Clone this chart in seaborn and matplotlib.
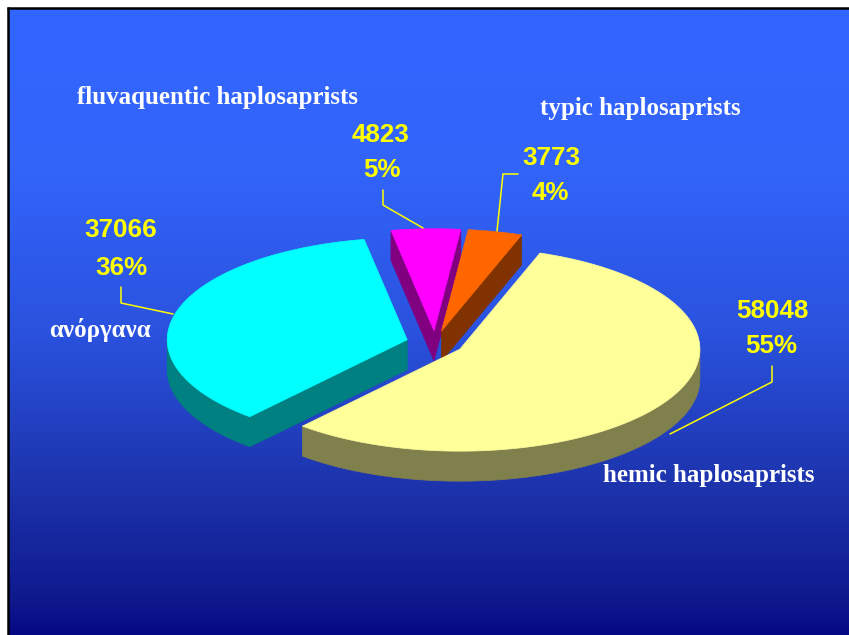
import numpy as np
import matplotlib
matplotlib.use("Agg")
import matplotlib.pyplot as plt
import seaborn as sns
from matplotlib.patches import Polygon
from matplotlib.colors import LinearSegmentedColormap

# ---------------- data ----------------
categories = ["ανόργανα", "fluvaquentic haplosaprists", "typic haplosaprists", "hemic haplosaprists"]
values = [37066, 4823, 3773, 58048]
percent_labels = ["36%", "5%", "4%", "55%"]
top_colors = ["#00FFFF", "#FF00FF", "#FF6600", "#FFFF99"]
side_colors = ["#008080", "#800080", "#803300", "#80804D"]

# ---------------- layout ----------------
W, H = 849, 635
CX, CY = 435, 343          # pie centre (top surface), pixel coords
RA, RB = 240, 102          # ellipse semi-axes
DEPTH = 30                 # thickness of the 3-D pie
EXPLODE = 0.12
START = 229.0              # angle where the first slice begins (deg, math convention), clockwise

sns.set_theme(style="white")
plt.rcParams["font.family"] = ["DejaVu Sans"]

fig = plt.figure(figsize=(W / 100, H / 100), dpi=100)
fig.patch.set_facecolor("white")
ax = fig.add_axes([0, 0, 1, 1])
ax.axis("off")
for s in ax.spines.values():
    s.set_visible(False)

# background gradient
stops = [(0.0, (51, 102, 255)), (0.25, (50, 100, 250)), (0.5, (42, 82, 222)),
         (0.75, (28, 50, 170)), (0.92, (14, 24, 140)), (1.0, (0, 0, 128))]
cmap = LinearSegmentedColormap.from_list(
    "bg", [(p, tuple(c / 255 for c in rgb)) for p, rgb in stops])
grad = np.linspace(0, 1, 400).reshape(-1, 1)
ax.imshow(grad, cmap=cmap, aspect="auto", extent=(9, W + 20, H + 20, 9), zorder=0,
          interpolation="bilinear")
ax.set_xlim(0, W)
ax.set_ylim(H, 0)
ax.plot([8, 8], [7, H + 5], color="black", lw=1.8, zorder=1, solid_capstyle="butt")
ax.plot([7, W + 5], [8, 8], color="black", lw=1.8, zorder=1, solid_capstyle="butt")

# ---------------- 3-D pie ----------------
vals = np.array(values, dtype=float)
fracs = vals / vals.sum()
sweeps = fracs * 360.0
starts = START - np.concatenate([[0], np.cumsum(sweeps)[:-1]])
ends = starts - sweeps


def rim(cx, cy, th_deg, h=0.0):
    t = np.radians(th_deg)
    return cx + RA * np.cos(t), cy - RB * np.sin(t) + h


slices = []
for i in range(len(vals)):
    lo, hi = ends[i], starts[i]
    mid = np.radians((lo + hi) / 2)
    ox = EXPLODE * RA * np.cos(mid)
    oy = -EXPLODE * RB * np.sin(mid)
    slices.append((i, lo, hi, CX + ox, CY + oy))

# back-to-front
slices.sort(key=lambda s: s[4])

for rank, (i, lo, hi, cx, cy) in enumerate(slices):
    z = 2 + rank * 4
    # radial faces
    for th, normal in ((lo, lo - 90), (hi, hi + 90)):
        if np.sin(np.radians(normal)) < 0:
            rx, ry = rim(cx, cy, th)
            poly = [(cx, cy), (rx, ry), (rx, ry + DEPTH), (cx, cy + DEPTH)]
            ax.add_patch(Polygon(poly, closed=True, facecolor=side_colors[i],
                                 edgecolor=side_colors[i], lw=0.5, zorder=z))
    # outer curved wall (front-facing part)
    for k in range(-2, 3):
        a0 = max(lo, 180 + 360 * k)
        a1 = min(hi, 360 + 360 * k)
        if a1 > a0:
            th = np.linspace(a0, a1, 120)
            xs, ys = rim(cx, cy, th)
            poly = np.vstack([np.column_stack([xs, ys]),
                              np.column_stack([xs[::-1], ys[::-1] + DEPTH])])
            ax.add_patch(Polygon(poly, closed=True, facecolor=side_colors[i],
                                 edgecolor=side_colors[i], lw=0.5, zorder=z + 1))
    # top face
    th = np.linspace(lo, hi, 240)
    xs, ys = rim(cx, cy, th)
    poly = np.vstack([[cx, cy], np.column_stack([xs, ys])])
    ax.add_patch(Polygon(poly, closed=True, facecolor=top_colors[i],
                         edgecolor=top_colors[i], lw=0.5, zorder=z + 2))

# ---------------- labels ----------------
num_font = dict(family="Liberation Sans", weight="bold", size=18.7, color="#FFFF00")
cat_font = dict(family="Liberation Serif", weight="bold", size=18, color="white")

value_pos = [(121, 237), (381, 142), (551, 165), (772, 318)]   # baselines
pct_pos = [(121, 275), (382, 177), (550, 200), (771, 353)]
cat_pos = [(100, 337), (218, 104), (640, 115), (709, 482)]
leaders = [
    [(121, 287), (121, 303), (173, 314)],
    [(383, 190), (383, 205), (423, 228)],
    [(518, 174), (503, 174), (497, 231)],
    [(772, 366), (772, 382), (670, 434)],
]

for i in range(len(values)):
    ax.text(*value_pos[i], f"{values[i]}", ha="center", va="baseline", zorder=50, **num_font)
    ax.text(*pct_pos[i], percent_labels[i], ha="center", va="baseline", zorder=50, **num_font)
    ax.text(*cat_pos[i], categories[i], ha="center", va="baseline", zorder=50, **cat_font)
    lx, ly = zip(*leaders[i])
    ax.plot(lx, ly, color="#FFFF00", lw=1.1, zorder=49)

fig.savefig("out.png", dpi=100, facecolor="white")
